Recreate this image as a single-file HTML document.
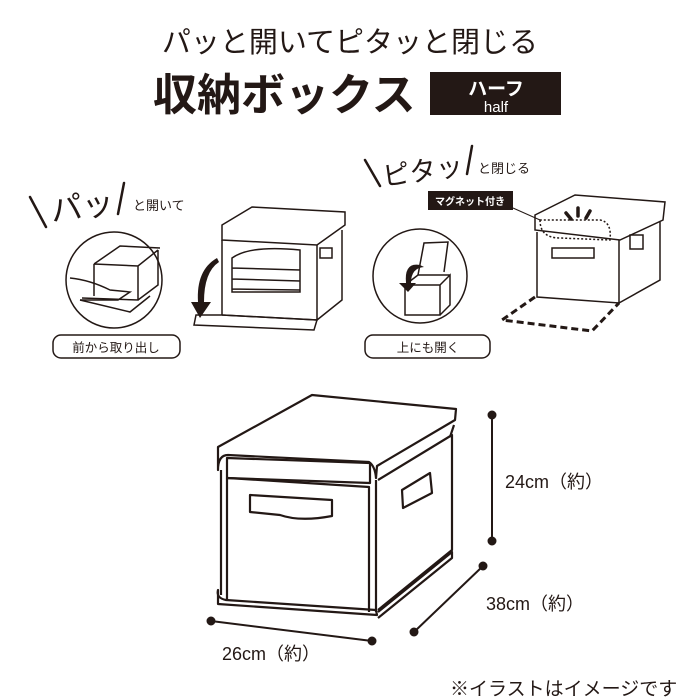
<!DOCTYPE html>
<html><head><meta charset="utf-8"><style>
html,body{margin:0;padding:0;background:#fff;}
svg{display:block;}
text{font-family:"Liberation Sans","Noto Sans CJK JP",sans-serif;fill:#231815;}
</style></head><body>
<svg width="700" height="700" viewBox="0 0 700 700" xmlns="http://www.w3.org/2000/svg">
<text x="350" y="52" font-size="29" text-anchor="middle">パッと開いてピタッと閉じる</text>
<text x="153" y="110" font-size="44" font-weight="bold" letter-spacing="0">収納ボックス</text>
<rect x="430" y="72" width="131" height="43" fill="#231815"/>
<text x="496" y="95" font-size="19" font-weight="bold" text-anchor="middle" style="fill:#fff">ハーフ</text>
<text x="496" y="112" font-size="15" text-anchor="middle" style="fill:#fff">half</text>

<g stroke="#231815" stroke-width="2.5" fill="none" stroke-linecap="round">
<line x1="30" y1="197" x2="46" y2="227"/>
<line x1="124" y1="183" x2="118" y2="214"/>
<line x1="365" y1="160" x2="380" y2="186"/>
<line x1="472" y1="146" x2="467" y2="174"/>
</g>
<text x="52" y="222" font-size="32" transform="rotate(-8 52 222)">パッ</text>
<text x="133" y="210" font-size="13">と開いて</text>
<text x="384" y="186" font-size="27" transform="rotate(-8 384 186)">ピタッ</text>
<text x="478" y="173" font-size="13">と閉じる</text>

<g fill="none" stroke="#231815" stroke-width="1.5">
<circle cx="114" cy="280" r="48"/>
<path d="M94 264 L120 246 L160 248 M94 264 L94 296 M94 264 L138 266 L158 250 M138 266 L138 300 L82 298 M138 300 L158 285 L158 250"/>
<path d="M70 278 Q90 280 110 290 L130 292 L118 300 L80 300"/>
<path d="M80 300 L130 312 L150 296"/>
<rect x="53" y="335" width="127" height="23" rx="8"/>
<path d="M222 225 L252 207 L345 212 L345 225 L317 245 L222 240 Z"/>
<path d="M222 240 L222 315 M317 245 L317 320 L222 315 M317 320 L342 300 L342 230"/>
<path d="M232 258 Q250 245 300 250 L300 292 L232 292 Z M232 268 L300 270 M232 279 L300 281 M232 289 L300 290"/>
<path d="M196 315 L222 315 L317 320 L314 330 L194 325 Z"/>
<rect x="320" y="248" width="12" height="10"/>
<circle cx="420" cy="276" r="47"/>
<path d="M405 285 L405 315 L440 315 L440 285 Z M440 285 L450 275 L450 305 L440 315 M405 285 L418 275 L450 275"/>
<path d="M418 275 L424 243 L448 242 L444 272"/>
<rect x="365" y="335" width="125" height="23" rx="8"/>
<path d="M535 215 L575 195 L665 202 L663 220 L620 240 L535 230 Z"/>
<path d="M537 232 L537 297 L619 303 L619 240 M619 303 L660 280 L660 222"/>
<rect x="552" y="248" width="42" height="10"/>
<rect x="630" y="235" width="13" height="14"/>
<path d="M540 220 Q540 238 560 238 L610 240 Q612 222 600 220 Z" stroke-dasharray="2,2"/>
</g>
<path d="M535 297 L502 320 L592 331 L619 303" fill="none" stroke="#231815" stroke-width="3" stroke-dasharray="7,4"/>
<path d="M217 258 Q196 270 198 302 L191 302 L200 318 L211 302 L204 302 Q204 272 219 262 Z" fill="#231815"/>
<path d="M420 265 Q404 262 406 283 L399 283 L408 292 L416 283 L411 283 Q411 268 424 267 Z" fill="#231815"/>
<path d="M566 213 L571 219 M578 208 L578 216 M590 211 L586 218" stroke="#231815" stroke-width="3.5" stroke-linecap="round"/>
<rect x="428" y="191" width="85" height="19" fill="#231815"/>
<text x="470" y="205" font-size="10" font-weight="bold" text-anchor="middle" style="fill:#fff">マグネット付き</text>
<line x1="513" y1="208" x2="540" y2="220" stroke="#231815" stroke-width="1"/>
<text x="116" y="352" font-size="12.5" text-anchor="middle">前から取り出し</text>
<text x="428" y="352" font-size="12.5" text-anchor="middle">上にも開く</text>

<g fill="none" stroke="#231815" stroke-width="2.2" stroke-linejoin="round">
<path d="M218 447 L312 395 L456 409 L455 420 L377 466 L376 478 Q375 466 369 462 L228 455 Q218 455 218 470 L218 447 Z"/>
<path d="M227 458 L370 463 L370 483 L227 478 Z"/>
<path d="M221 470 L221 595 M376 480 L376 612"/>
<path d="M227 478 L227 600 M228 478 L369 487 L369 612"/>
<path d="M378 480 L452 435 L452 550 L378 610"/>
<path d="M450 437 L454 425"/>
<path d="M218 590 Q216 598 226 600 L376 610 L377 615 L218 604 Z"/>
<path d="M378 612 L452 552 L452 558 L378 618"/>
<path d="M250 495 L332 500 L332 516 Q300 522 280 515 L250 512 Z"/>
<path d="M402 490 L430 473 L432 493 L403 508 Z"/>
</g>
<g stroke="#231815" stroke-width="2" fill="#231815">
<line x1="492" y1="415" x2="492" y2="541"/><circle cx="492" cy="415" r="3.5"/><circle cx="492" cy="541" r="3.5"/>
<line x1="483" y1="566" x2="414" y2="632"/><circle cx="483" cy="566" r="3.5"/><circle cx="414" cy="632" r="3.5"/>
<line x1="211" y1="621" x2="372" y2="641"/><circle cx="211" cy="621" r="3.5"/><circle cx="372" cy="641" r="3.5"/>
</g>
<text x="505" y="488" font-size="18">24cm（約）</text>
<text x="486" y="610" font-size="18">38cm（約）</text>
<text x="222" y="660" font-size="18">26cm（約）</text>
<text x="450" y="695" font-size="19">※イラストはイメージです</text>
</svg>
</body></html>
